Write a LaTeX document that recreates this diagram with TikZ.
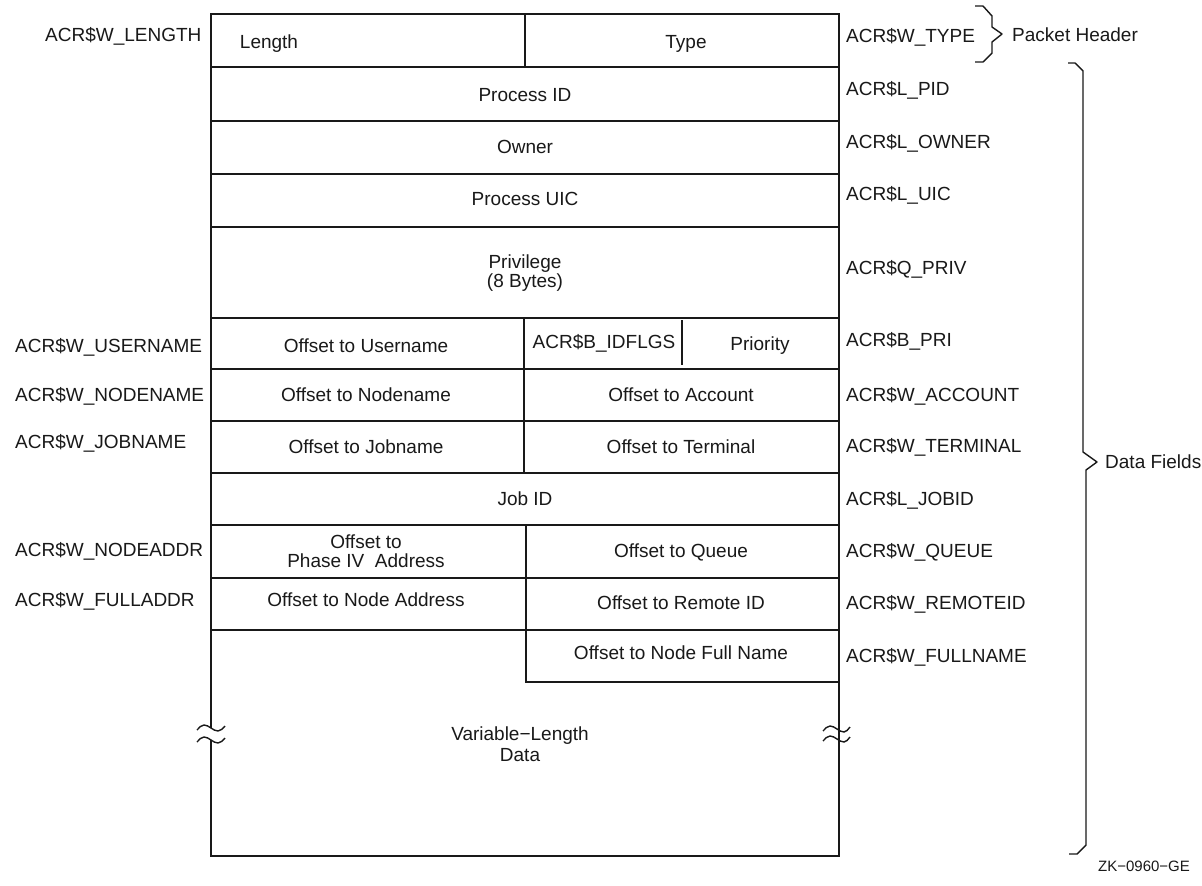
\documentclass[tikz,border=0pt]{standalone}
\usepackage{fontspec}
\setmainfont{Liberation Sans}
\begin{document}
\begin{tikzpicture}[x=1pt,y=-1pt,
  txt/.style={inner sep=0pt, text height=13.6pt, text depth=0pt, font=\fontsize{19}{22}\selectfont, text=black!90},
  lft/.style={txt, anchor=west},
  frame/.style={line width=1.8pt, draw=black!90},
  thin/.style={line width=1.3pt, draw=black!90},
  brace/.style={line width=1.4pt, draw=black!90, line join=round},
  wave/.style={line width=1.4pt, draw=black!90}]
\useasboundingbox (0,0) rectangle (1202,886);
\fill[white] (0,0) rectangle (1202,886);

% ---- outer frame (left side broken by the wave marks)
\draw[frame] (211,728) -- (211,14) -- (839,14) -- (839,856) -- (211,856) -- (211,740);
% ---- row separators
\foreach \yy in {67,121,174,227,318,369,421,473,525,578}
  \draw[frame] (211,\yy) -- (839,\yy);
\draw[thin] (211,630) -- (525,630);
\draw[frame] (525,630) -- (839,630);
\draw[frame] (525,682) -- (839,682);
% ---- column separators
\draw[frame] (525,14) -- (525,67);
\draw[frame] (524,318) -- (524,473);
\draw[frame] (526,525) -- (526,682);
\draw[thin] (682,320) -- (682,365);

% ---- wave (break) marks
\draw[wave] (197,730) sin (204,725) cos (211,728) sin (218,731) cos (225,726);
\draw[wave] (197,742) sin (204,737) cos (211,740) sin (218,743) cos (225,738);
\draw[wave] (823,731) sin (830,726) cos (837,729) sin (844,732) cos (850,727);
\draw[wave] (823,741) sin (830,736) cos (837,739) sin (844,742) cos (850,737);

% ---- cell texts
\node[txt] (len) at (269,42) {Length};
\node[txt] (typ) at (686,42) {Type};
\node[txt] (pid) at (525,95) {Process ID};
\node[txt] (own) at (525,147) {Owner};
\node[txt] (uic) at (525,199) {Process UIC};
\node[txt] (priva) at (525,262) {Privilege};
\node[txt] (privb) at (525,281) {(8 Bytes)};
\node[txt] (usr) at (366,346) {Offset to Username};
\node[txt] (idf) at (604,342) {ACR\$B\_IDFLGS};
\node[txt] (pri) at (760,344) {Priority};
\node[txt] (nod) at (366,395) {Offset to Nodename};
\node[txt] (acc) at (681,395) {Offset to Account};
\node[txt] (job) at (366,447) {Offset to Jobname};
\node[txt] (ter) at (681,447) {Offset to Terminal};
\node[txt] (jid) at (525,499) {Job ID};
\node[txt] (p4a) at (366,542) {Offset to};
\node[txt] (p4b) at (366,561) {Phase IV\ \ Address};
\node[txt] (que) at (681,551) {Offset to Queue};
\node[txt] (nad) at (366,600) {Offset to Node Address};
\node[txt] (rem) at (681,603) {Offset to Remote ID};
\node[txt] (ful) at (681,653) {Offset to Node Full Name};
\node[txt] (vla) at (520,734) {Variable−Length};
\node[txt] (vlb) at (520,755) {Data};

% ---- left field names
\node[lft] (lLEN) at (45,35) {ACR\$W\_LENGTH};
\node[lft] (lUSR) at (15,346) {ACR\$W\_USERNAME};
\node[lft] (lNOD) at (15,395) {ACR\$W\_NODENAME};
\node[lft] (lJOB) at (15,442) {ACR\$W\_JOBNAME};
\node[lft] (lNAD) at (15,550) {ACR\$W\_NODEADDR};
\node[lft] (lFAD) at (15,600) {ACR\$W\_FULLADDR};

% ---- right field names
\node[lft] (rTYP) at (846,36) {ACR\$W\_TYPE};
\node[lft] (rPID) at (846,89) {ACR\$L\_PID};
\node[lft] (rOWN) at (846,142) {ACR\$L\_OWNER};
\node[lft] (rUIC) at (846,194) {ACR\$L\_UIC};
\node[lft] (rPRV) at (846,268) {ACR\$Q\_PRIV};
\node[lft] (rPRI) at (846,340) {ACR\$B\_PRI};
\node[lft] (rACC) at (846,395) {ACR\$W\_ACCOUNT};
\node[lft] (rTER) at (846,446) {ACR\$W\_TERMINAL};
\node[lft] (rJID) at (846,499) {ACR\$L\_JOBID};
\node[lft] (rQUE) at (846,551) {ACR\$W\_QUEUE};
\node[lft] (rREM) at (846,603) {ACR\$W\_REMOTEID};
\node[lft] (rFUL) at (846,656) {ACR\$W\_FULLNAME};

% ---- braces
\draw[brace] (975,6) -- (983,6) -- (992,16) -- (992,27) -- (1002,34) -- (992,42) -- (992,53) -- (983,62) -- (975,62);
\node[lft] (ph) at (1012,35) {Packet Header};
\draw[brace] (1068,63) -- (1075,63) -- (1083,71) -- (1083,452) -- (1097,462) -- (1086,470) -- (1086,845) -- (1077,854) -- (1069,854);
\node[lft] (df) at (1105,462) {Data Fields};

\node[txt, font=\fontsize{15}{18}\selectfont, text height=11pt] (zk) at (1144,866) {ZK−0960−GE};
\end{tikzpicture}
\end{document}
